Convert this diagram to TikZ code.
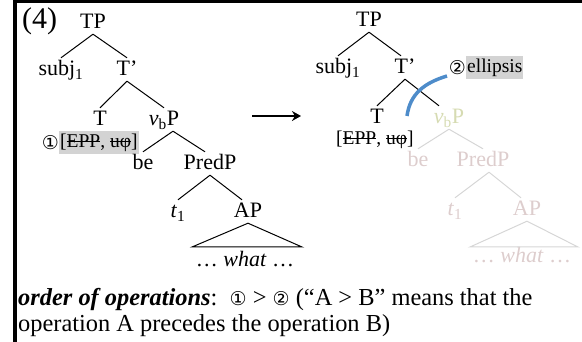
\documentclass[tikz,border=0pt]{standalone}
\usepackage{fontspec}
\setmainfont{Liberation Serif}
\newfontfamily\circfont{DejaVu Sans}
\usetikzlibrary{arrows.meta, positioning, calc}

\definecolor{fadetext}{RGB}{221,205,205}
\definecolor{fadeline}{RGB}{214,214,214}
\definecolor{fadehead}{RGB}{214,219,178}
\definecolor{cutblue}{RGB}{78,140,202}
\definecolor{markgrey}{RGB}{211,211,211}

\newcommand{\circnum}[1]{{\circfont\fontsize{19}{19}\selectfont #1}}
\newcommand{\strk}[1]{\leavevmode\setbox0\hbox{#1}\rlap{\vrule height .37em depth -.31em width \wd0}\box0}

\begin{document}
\begin{tikzpicture}[
    x=1pt, y=-1pt,
    lbl/.style={font=\fontsize{22}{24}\selectfont, anchor=base, inner xsep=0pt, inner ysep=2pt, text height=16pt, text depth=3pt},
    faded/.style={lbl, text=fadetext},
    feat/.style={font=\fontsize{19.5}{22}\selectfont, anchor=base west, inner xsep=1pt, inner ysep=2pt, text height=15pt, text depth=4pt},
    hilite/.style={fill=markgrey},
    prose/.style={font=\fontsize{24.4}{26}\selectfont, anchor=base west, inner sep=0pt},
    branch/.style={line width=1pt},
    fadebranch/.style={line width=1pt, draw=fadeline},
    arrow/.style={-{Stealth[length=9pt, width=10pt]}, line width=1.4pt},
    cut/.style={line width=3.5pt, draw=cutblue}
]
\useasboundingbox (0,0) rectangle (582,342);
\draw[line width=3.5pt] (14.75,342) -- (14.75,1.75) -- (582,1.75);

% tree before ellipsis
\node[anchor=base west, inner sep=0pt, font=\fontsize{30}{32}\selectfont] (exnum) at (22,29) {(4)};
\node[lbl] (tpL) at (93,29) {TP};
\node[lbl] (subjL) at (61,76) {subj\textsubscript{1}};
\node[lbl] (tbarL) at (127,76) {T’};
\node[lbl] (tL) at (100,126) {T};
\node[lbl] (vbL) at (164,126) {\textit{v}\textsubscript{b}P};
\node[feat, hilite] (eppL) at (59,148) {[\strk{EPP}, \strk{uφ}]};
\node[left=0pt of eppL, inner sep=0pt] (oneL) {\circnum{①}};
\node[lbl] (beL) at (143,170) {be};
\node[lbl] (predL) at (210,170) {PredP};
\node[lbl] (traceL) at (178,218) {\textit{t}\textsubscript{1}};
\node[lbl] (apL) at (248,218) {AP};
\node[lbl] (whatL) at (245,267) {… \textit{what} …};
\coordinate (triL1) at (192,247);
\coordinate (triL2) at (302,247);

\draw[branch] (tpL.south) -- (subjL.north);
\draw[branch] (tpL.south) -- (tbarL.north);
\draw[branch] (tbarL.south) -- (tL.north);
\draw[branch] (tbarL.south) -- (vbL.north);
\draw[branch] ($(vbL.south)+(9,0)$) -- (beL.north);
\draw[branch] ($(vbL.south)+(9,0)$) -- ($(predL.north)+(-5,0)$);
\draw[branch] (predL.south) -- (traceL.north);
\draw[branch] (predL.south) -- ($(apL.north)+(-6,0)$);
\draw[branch] (apL.south) -- (triL1) -- (triL2) -- cycle;

\coordinate (arrS) at (252,116);
\coordinate (arrE) at (301,116);
\draw[arrow] (arrS) -- (arrE);

% tree after ellipsis
\node[lbl] (tpR) at (369,27) {TP};
\node[lbl] (subjR) at (338,74) {subj\textsubscript{1}};
\node[lbl] (tbarR) at (405,74) {T’};
\node[feat, hilite] (ellR) at (466,73) {ellipsis};
\node[left=0pt of ellR, inner sep=0pt] (twoR) {\circnum{②}};
\node[lbl] (tR) at (377,124) {T};
\node[lbl, text=fadehead] (vbR) at (449,124) {\textit{v}\textsubscript{b}P};
\node[feat] (eppR) at (335,145) {[\strk{EPP}, \strk{uφ}]};
\node[faded] (beR) at (418,167) {be};
\node[faded] (predR) at (483,167) {PredP};
\node[faded] (traceR) at (455,216) {\textit{t}\textsubscript{1}};
\node[faded] (apR) at (527,216) {AP};
\node[faded] (whatR) at (522,263) {… \textit{what} …};
\coordinate (triR1) at (470,247);
\coordinate (triR2) at (578,247);

\draw[branch] (tpR.south) -- (subjR.north);
\draw[branch] (tpR.south) -- ($(tbarR.north)+(-4,0)$);
\draw[branch] (tbarR.south) -- (tR.north);
\draw[branch] (tbarR.south) -- ($(vbR.north)+(-10,0)$);
\draw[fadebranch] (vbR.south) -- (beR.north);
\draw[fadebranch] (vbR.south) -- (predR.north);
\draw[fadebranch] ($(predR.south)+(6,0)$) -- (traceR.north);
\draw[fadebranch] ($(predR.south)+(6,0)$) -- ($(apR.north)+(-6,0)$);
\draw[fadebranch] (apR.south) -- (triR1) -- (triR2) -- cycle;

\coordinate (cutA) at (407,116);
\coordinate (cutB) at (447,76);
\draw[cut] (cutA) .. controls (410,94) and (424,83) .. (cutB);

\node[prose] (orderA) at (18,306) {\textbf{\textit{order of operations}}:\ \ \circnum{①} > \circnum{②} (“A > B” means that the};
\node[prose] (orderB) at (18,331) {operation A precedes the operation B)};
\end{tikzpicture}
\end{document}
